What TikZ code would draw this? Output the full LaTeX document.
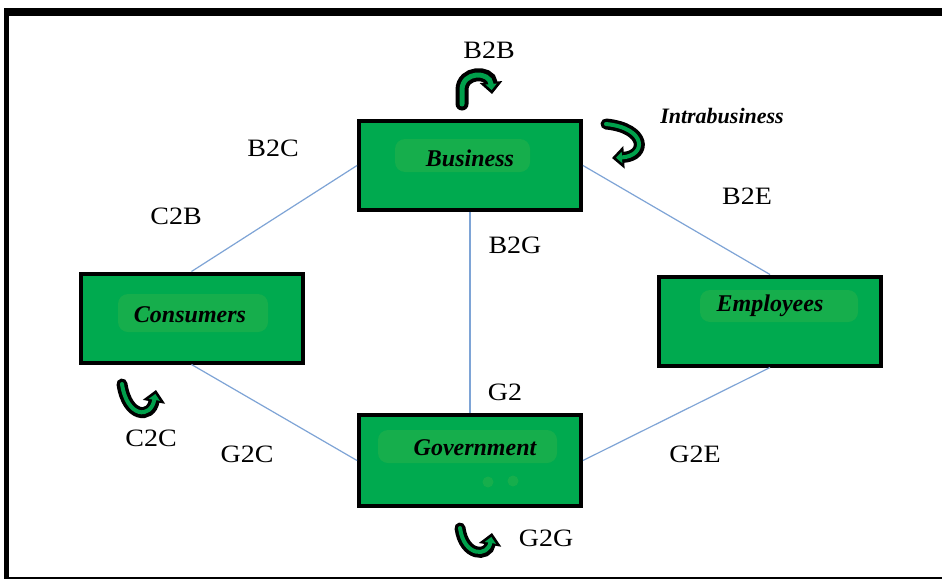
\documentclass[tikz,border=0pt]{standalone}
\usepackage{fontspec}
\setmainfont{Liberation Serif}
\newfontfamily\labelfont[FakeStretch=1.12]{Liberation Serif}
\usetikzlibrary{arrows.meta}
\definecolor{boxgreen}{RGB}{0,170,79}
\definecolor{smudge}{RGB}{22,174,76}
\definecolor{linkblue}{RGB}{126,164,214}
\definecolor{arrowgreen}{RGB}{0,160,75}
\tikzset{
  actor/.style={draw=black, line width=4pt, fill=boxgreen, minimum width=222pt,
    minimum height=89pt, inner sep=0pt},
  actortext/.style={font=\fontsize{24}{24}\selectfont\bfseries\itshape, inner sep=0pt},
  flowlabel/.style={font=\labelfont\fontsize{25}{25}\selectfont, inner sep=0pt},
  link/.style={draw=linkblue, line width=1.2pt},
  patch/.style={fill=smudge, rounded corners=10pt},
  loopouter/.style={line width=#1, black, line cap=round,
    -{Triangle[length=12pt,width=22pt]}},
  loopinner/.style={line width=#1, arrowgreen, line cap=round,
    -{Triangle[length=6pt,width=11pt]}, shorten >=4pt},
}
\begin{document}
\begin{tikzpicture}[x=1pt,y=-1pt]
\useasboundingbox (0,0) rectangle (942,581);
\fill[white] (0,0) rectangle (942,581);
% outer frame
\fill[black] (4,8) rectangle (942,16);
\fill[black] (4,8) rectangle (9,579);
\fill[black] (4,576.5) rectangle (942,579);

% actors
\node[actor] (bus) at (470,165.5) {};
\node[actor] (con) at (191.5,318) {};
\node[actor] (emp) at (770,321) {};
\node[actor, minimum height=91pt] (gov) at (470,460.5) {};

% soft highlight patches behind the names
\fill[patch] (395,139) rectangle (530,172);
\fill[patch] (118,294) rectangle (268,332);
\fill[patch] (700,290) rectangle (858,322);
\fill[patch] (378,430) rectangle (557,463);
\fill[smudge] (488,482) circle (5.5);
\fill[smudge] (513,481) circle (5.5);

\node[actortext] (busT) at (470,158) {Business};
\node[actortext] (conT) at (190,315) {Consumers};
\node[actortext] (empT) at (770,306) {Employees};
\node[actortext] (govT) at (475,448) {Government};

% links between actors
\draw[link] (bus.west) -- (con.north);
\draw[link] (bus.south) -- (gov.north);
\draw[link] (bus.east) -- (emp.north);
\draw[link] (con.south) -- (gov.west);
\draw[link] (emp.south) -- (gov.east);

% flow labels
\node[flowlabel] (lB2B) at (489,50) {B2B};
\node[flowlabel] (lB2C) at (273,148) {B2C};
\node[flowlabel] (lC2B) at (176,216) {C2B};
\node[flowlabel] (lB2E) at (747,196) {B2E};
\node[flowlabel] (lB2G) at (515,245) {B2G};
\node[flowlabel] (lG2) at (505,392) {G2};
\node[flowlabel] (lC2C) at (151,438) {C2C};
\node[flowlabel] (lG2C) at (247,454) {G2C};
\node[flowlabel] (lG2E) at (695,454) {G2E};
\node[flowlabel] (lG2G) at (546,538) {G2G};
\node[actortext, font=\fontsize{22}{22}\selectfont\bfseries\itshape] (lIntra) at (722,116) {Intrabusiness};

% self-loop arrows
\draw[loopouter=13pt] (462,104) -- (462,90) .. controls (462,71) and (490,71) .. (492,94);
\draw[loopinner=5pt] (462,104) -- (462,90) .. controls (462,71) and (490,71) .. (492,94);

\draw[loopouter=11pt] (606,124) .. controls (647,128) and (647,156) .. (612,158);
\draw[loopinner=4pt] (606,124) .. controls (647,128) and (647,156) .. (612,158);

\draw[loopouter=11pt] (122,384) .. controls (127,418) and (151,419) .. (156,390);
\draw[loopinner=4pt] (122,384) .. controls (127,418) and (151,419) .. (156,390);

\draw[loopouter=11pt] (460,528) .. controls (464,557) and (488,557) .. (492,533);
\draw[loopinner=4pt] (460,528) .. controls (464,557) and (488,557) .. (492,533);
\end{tikzpicture}
\end{document}
